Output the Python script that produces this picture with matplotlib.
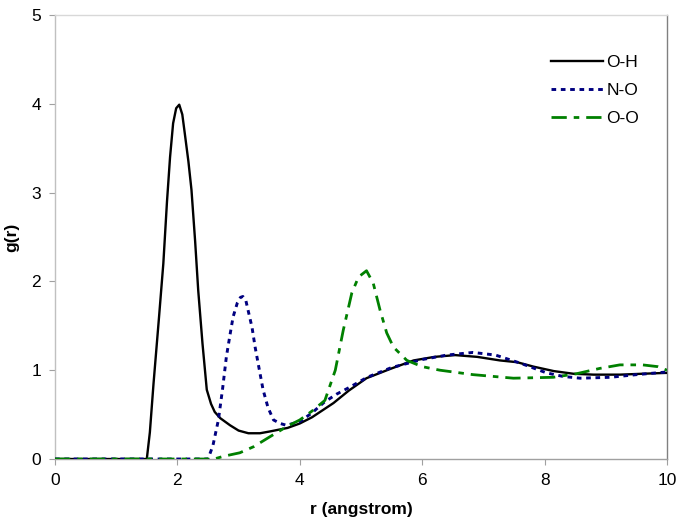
import matplotlib
matplotlib.use("Agg")
import matplotlib.pyplot as plt

plt.rcParams['font.family'] = ['Liberation Sans', 'DejaVu Sans']

# O-H
oh_r = [0, 1.5, 1.55, 1.61, 1.7, 1.77, 1.83, 1.88, 1.93, 1.98, 2.03, 2.08, 2.12, 2.18, 2.23, 2.29,
        2.34, 2.41, 2.48, 2.55, 2.61, 2.7, 2.86, 3.0, 3.16, 3.35, 3.51, 3.8, 4.0, 4.2, 4.55, 4.8,
        5.09, 5.5, 5.86, 6.2, 6.54, 6.9, 7.27, 7.55, 7.82, 8.15, 8.47, 8.8, 9.23, 9.6, 10]
oh_g = [0, 0, 0.3, 0.85, 1.6, 2.2, 2.9, 3.4, 3.78, 3.95, 3.99, 3.88, 3.67, 3.35, 3.03, 2.45,
        1.9, 1.3, 0.78, 0.62, 0.53, 0.46, 0.38, 0.32, 0.29, 0.29, 0.31, 0.35, 0.40, 0.47, 0.63, 0.77,
        0.91, 1.02, 1.11, 1.15, 1.17, 1.15, 1.11, 1.09, 1.04, 0.99, 0.96, 0.95, 0.95, 0.96, 0.97]

# N-O
no_r = [0, 2.5, 2.58, 2.67, 2.74, 2.8, 2.86, 2.91, 2.98, 3.03, 3.07, 3.12, 3.16, 3.22, 3.27, 3.34,
        3.4, 3.48, 3.57, 3.68, 3.78, 4.0, 4.2, 4.4, 4.6, 4.82, 5.1, 5.5, 6.0, 6.4, 6.83, 7.2, 7.6,
        8.03, 8.3, 8.58, 9.07, 9.5, 10]
no_g = [0, 0, 0.15, 0.44, 0.8, 1.15, 1.4, 1.6, 1.76, 1.82, 1.83, 1.78, 1.66, 1.48, 1.26, 1.0,
        0.78, 0.58, 0.44, 0.40, 0.38, 0.42, 0.52, 0.64, 0.73, 0.81, 0.92, 1.03, 1.12, 1.17, 1.2, 1.17, 1.08,
        0.97, 0.93, 0.91, 0.92, 0.95, 0.98]

# O-O
oo_r = [0, 2.6, 2.75, 3.02, 3.25, 3.51, 3.8, 4.0, 4.2, 4.41, 4.58, 4.71, 4.85, 4.96, 5.09, 5.2,
        5.31, 5.42, 5.53, 5.75, 6.0, 6.29, 6.83, 7.49, 8.14, 8.52, 8.9, 9.23, 9.6, 9.85, 10]
oo_g = [0, 0, 0.03, 0.07, 0.14, 0.25, 0.37, 0.44, 0.54, 0.66, 1.0, 1.45, 1.87, 2.05, 2.12, 1.98,
        1.68, 1.42, 1.26, 1.11, 1.04, 1.0, 0.95, 0.91, 0.92, 0.96, 1.02, 1.06, 1.06, 1.04, 1.0]

x_ticks = [0, 2, 4, 6, 8, 10]
y_ticks = [0, 1, 2, 3, 4, 5]

fig = plt.figure(figsize=(6.81, 5.30), dpi=100)
ax = fig.add_axes([55/681, 71/530, 612/681, 444/530])

ax.plot(oh_r, oh_g, color='black', lw=1.7, label='O-H', zorder=3)
ax.plot(no_r, no_g, color='#000080', lw=2.1, dashes=(1.6, 1.6), label='N-O', zorder=4)
ax.plot(oo_r, oo_g, color='#008000', lw=2.0, dashes=(5.5, 2.5, 2.0, 2.5), label='O-O', zorder=5)

ax.set_xlim(0, 10)
ax.set_ylim(0, 5)
ax.set_xticks(x_ticks)
ax.set_yticks(y_ticks)
ax.tick_params(direction='out', length=4, width=0.8, color='#A0A0A0', labelsize=12.5, pad=6)
ax.spines['left'].set_color('#C0C0C0')
ax.spines['bottom'].set_color('#A0A0A0')
ax.spines['top'].set_color('#D8D8D8')
ax.spines['right'].set_color('#808080')
for s in ax.spines.values():
    s.set_linewidth(1.0)

ax.set_xlabel('r (angstrom)', fontsize=12.5, fontweight='bold', labelpad=10)
ax.set_ylabel('g(r)', fontsize=12.5, fontweight='bold', labelpad=9)

leg = ax.legend(loc='upper left', bbox_to_anchor=(0.796, 0.93), frameon=False, fontsize=12.5,
                handlelength=3.0, handletextpad=0.2, labelspacing=0.75, borderpad=0)

fig.savefig('out.png', dpi=100)
